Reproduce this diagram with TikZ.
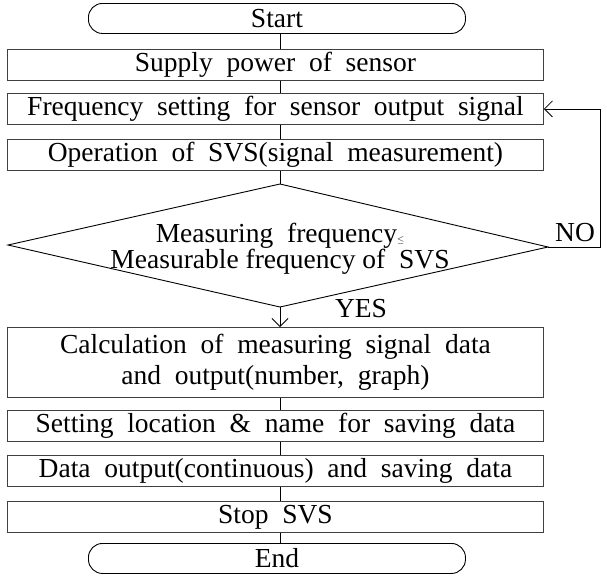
\documentclass[tikz,border=0pt]{standalone}
\usepackage{fontspec}
\setmainfont{Liberation Serif}
\usetikzlibrary{arrows.meta}
\begin{document}
\begin{tikzpicture}[x=1pt,y=-1pt,line width=0.9pt,
 box/.style={draw=black!75,minimum width=536pt,minimum height=31pt,inner sep=0pt,anchor=north west},
 term/.style={draw=black,rounded corners=14pt,minimum width=377pt,minimum height=30pt,inner sep=0pt,anchor=north west},
 arr/.style={-{Straight Barb[length=8pt,width=16pt,line width=0.8pt]}}]
\fontsize{27.5}{27.5}\selectfont
\useasboundingbox (0,0) rectangle (607,579);
\node[term] (start) at (88,3) {Start};
\node[box] (s1) at (7,49) {Supply\ \ power\ \ of\ \ sensor};
\node[box] (s2) at (7,93) {Frequency\ \ setting\ \ for\ \ sensor\ \ output\ \ signal};
\node[box] (s3) at (7,139) {Operation\ \ of\ \ SVS(signal\ \ measurement)};
\coordinate (dt) at (280,184);
\coordinate (dl) at (8,245);
\coordinate (dr) at (548,247);
\coordinate (db) at (280,307);
\draw (dt) -- (dr) -- (db) -- (dl) -- cycle;
\node[align=center,font=\fontsize{27.5}{23}\selectfont] (dtext) at (280,249) {Measuring\ \ frequency{\small$\leq$}\\Measurable frequency of\ \ SVS};
\node[box,minimum height=70pt,align=center,font=\fontsize{27.5}{31}\selectfont] (s4) at (7,327) {Calculation\ \ of\ \ measuring\ \ signal\ \ data\\and\ \ output(number,\ \ graph)};
\node[box] (s5) at (7,410) {Setting\ \ location\ \ \&\ \ name\ \ for\ \ saving\ \ data};
\node[box] (s6) at (7,455) {Data\ \ output(continuous)\ \ and\ \ saving\ \ data};
\node[box] (s7) at (7,501) {Stop\ \ SVS};
\node[term] (end) at (88,543) {End};
\draw (start.south -| dt) -- (s1.north -| dt);
\draw (s1.south -| dt) -- (s2.north -| dt);
\draw (s2.south -| dt) -- (s3.north -| dt);
\draw (s3.south -| dt) -- (dt);
\draw[arr] (db) -- (s4.north -| db);
\draw (s4.south -| dt) -- (s5.north -| dt);
\draw (s5.south -| dt) -- (s6.north -| dt);
\draw (s6.south -| dt) -- (s7.north -| dt);
\draw (s7.south -| dt) -- (end.north -| dt);
\coordinate (fb) at (600,247);
\draw[arr] (dr) -- (fb) -- (fb |- s2.east) -- (s2.east);
\node (no) at (575,233) {NO};
\node (yes) at (361,309) {YES};
\end{tikzpicture}
\end{document}
